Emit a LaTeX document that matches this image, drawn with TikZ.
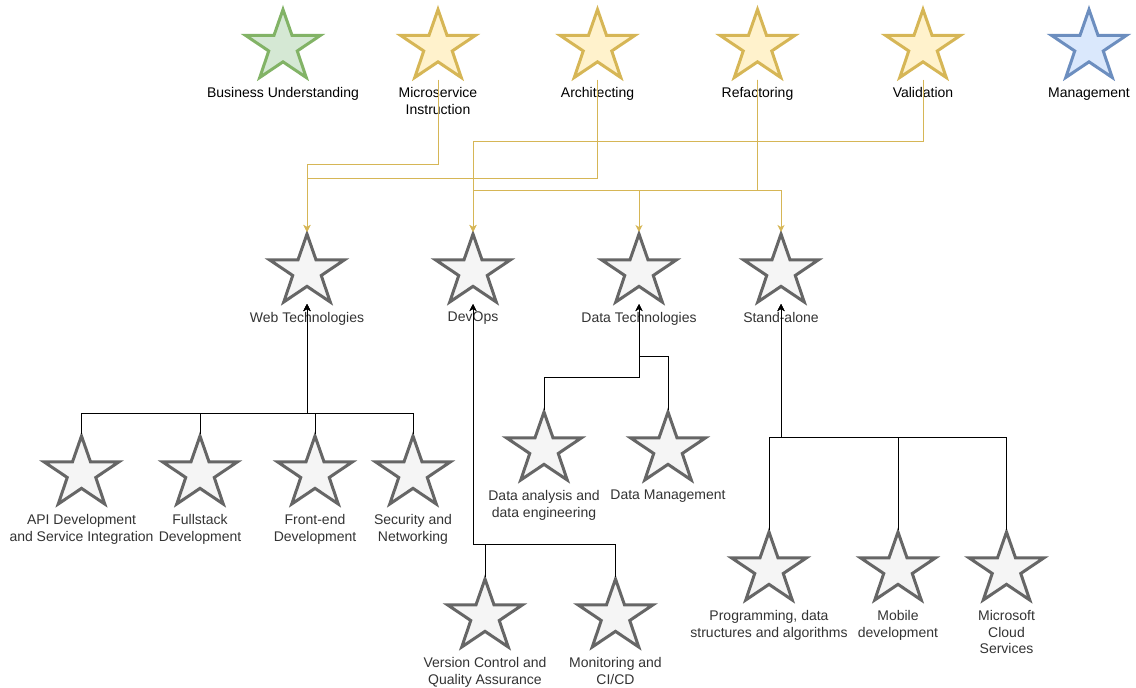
\documentclass[tikz,border=0pt]{standalone}
\usepackage{fontspec}
\setmainfont{Liberation Sans}
\usetikzlibrary{arrows.meta}

\definecolor{greenline}{HTML}{82B366}
\definecolor{greenfill}{HTML}{D5E8D4}
\definecolor{goldline}{HTML}{D6B656}
\definecolor{goldfill}{HTML}{FFF2CC}
\definecolor{blueline}{HTML}{6C8EBF}
\definecolor{bluefill}{HTML}{DAE8FC}
\definecolor{greyline}{HTML}{666666}
\definecolor{greyfill}{HTML}{F5F5F5}
\definecolor{greytext}{HTML}{333333}

\tikzset{
  starbox/.style={rectangle, minimum width=80pt, minimum height=72pt, inner sep=0pt, outer sep=0pt},
  greenstar/.style={draw=greenline, fill=greenfill, line width=3pt},
  goldstar/.style={draw=goldline, fill=goldfill, line width=3pt},
  bluestar/.style={draw=blueline, fill=bluefill, line width=3pt},
  greystar/.style={draw=greyline, fill=greyfill, line width=3pt},
  greenstar text/.style={text=black},
  goldstar text/.style={text=black},
  bluestar text/.style={text=black},
  greystar text/.style={text=greytext},
  starlabel/.style={anchor=north, inner sep=0pt, align=center, font=\fontsize{14pt}{16.8pt}\selectfont},
  goldlink/.style={draw=goldline, line width=1pt, -{Stealth[length=7pt, width=7pt, inset=2pt]}},
  blacklink/.style={draw=black, line width=1pt, -{Stealth[length=7pt, width=7pt, inset=2pt]}},
}

% #1 name, #2 x, #3 y, #4 star style, #5 label
% the outline is a 75 x 68 five-pointed star centred in an 80 x 72 box
\newcommand\skillstar[5]{%
  \node[starbox] (#1) at (#2,#3) {};
  \draw[#4, shift={(#1.center)}, xscale=0.9375, yscale=0.944]
    (-40,-8.64) -- (-9.6,-8.64) -- (0,-36) -- (9.6,-8.64) -- (40,-8.64)
    -- (15.2,7.92) -- (24.8,36) -- (0,19.44) -- (-24.8,36) -- (-15.2,7.92) -- cycle;
  \node[starlabel, #4 text] (#1-label) at ([yshift=-8pt]#1.south) {#5};
}

\begin{document}
\begin{tikzpicture}[x=1pt, y=-1pt]
\useasboundingbox (0,0) rectangle (1136,688);

% phases
\skillstar{business}{283}{43.5}{greenstar}{Business Understanding}
\skillstar{micro}{438}{43.5}{goldstar}{Microservice\\Instruction}
\skillstar{arch}{597.5}{43.5}{goldstar}{Architecting}
\skillstar{refac}{757.5}{43.5}{goldstar}{Refactoring}
\skillstar{valid}{923}{43.5}{goldstar}{Validation}
\skillstar{manage}{1089}{43.5}{bluestar}{Management}

% skill areas
\skillstar{web}{307}{268}{greystar}{Web Technologies}
\skillstar{devops}{473}{268}{greystar}{DevOps}
\skillstar{data}{639}{268}{greystar}{Data Technologies}
\skillstar{alone}{781}{268}{greystar}{Stand-alone}

% web skills
\skillstar{api}{81.5}{470}{greystar}{API Development\\and Service Integration}
\skillstar{fullstack}{200}{470}{greystar}{Fullstack\\Development}
\skillstar{frontend}{315}{470}{greystar}{Front-end\\Development}
\skillstar{security}{413}{470}{greystar}{Security and\\Networking}

% data skills
\skillstar{analysis}{544}{446}{greystar}{Data analysis and\\data engineering}
\skillstar{datamgmt}{668}{446}{greystar}{Data Management}

% devops skills
\skillstar{version}{485}{613}{greystar}{Version Control and\\Quality Assurance}
\skillstar{monitor}{615.5}{613}{greystar}{Monitoring and\\CI/CD}

% stand-alone skills
\skillstar{prog}{769}{566}{greystar}{Programming, data\\structures and algorithms}
\skillstar{mobile}{898}{566}{greystar}{Mobile\\development}
\skillstar{cloud}{1006.5}{566}{greystar}{Microsoft\\Cloud\\Services}

% phase -> skill area links
\draw[goldlink] (micro.south) |- (307,164) -| (web.north);
\draw[goldlink] (arch.south) |- (307,178.5) -| (web.north);
\draw[goldlink] (valid.south) |- (473,141) -| (devops.north);
\draw[goldlink] (refac.south) |- (473,190.5) -| (devops.north);
\draw[goldlink] (refac.south) |- (639,190.5) -| (data.north);
\draw[goldlink] (refac.south) |- (781,190.5) -| (alone.north);

% skill -> skill area links
\draw[blacklink] (api.north) |- (307,413) -| (web.south);
\draw[blacklink] (fullstack.north) |- (307,413) -| (web.south);
\draw[blacklink] (frontend.north) |- (307,413) -| (web.south);
\draw[blacklink] (security.north) |- (307,413) -| (web.south);

\draw[blacklink] (analysis.north) |- (639,377.5) -| (data.south);
\draw[blacklink] (datamgmt.north) |- (639,356.5) -| (data.south);

\draw[blacklink] (version.north) |- (473,544) -| (devops.south);
\draw[blacklink] (monitor.north) |- (473,544) -| (devops.south);

\draw[blacklink] (prog.north) |- (781,437) -| (alone.south);
\draw[blacklink] (mobile.north) |- (781,437) -| (alone.south);
\draw[blacklink] (cloud.north) |- (781,437) -| (alone.south);
\end{tikzpicture}
\end{document}
